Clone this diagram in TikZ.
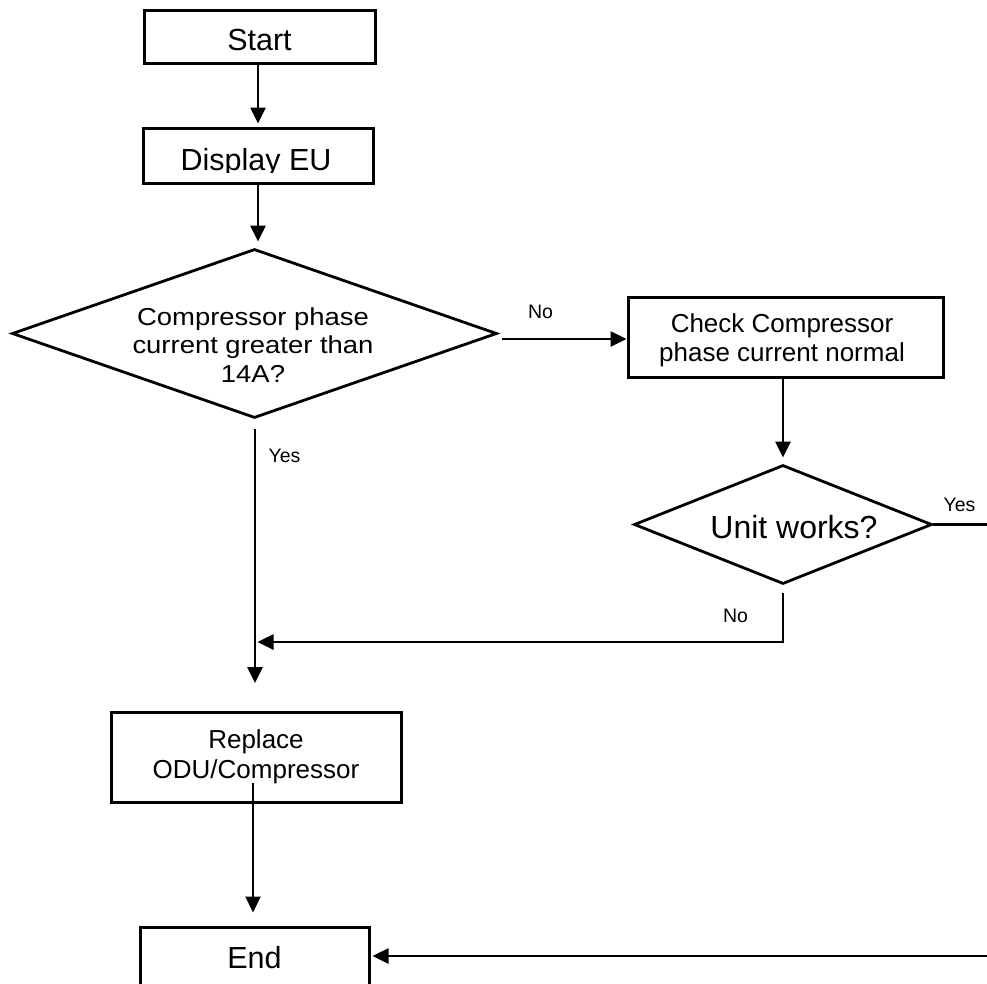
\documentclass[tikz,border=0pt]{standalone}
\usepackage{fontspec}
\setmainfont{Liberation Sans}
\newfontfamily\widefont[FakeStretch=1.12]{Liberation Sans}
\usetikzlibrary{arrows.meta,shapes.geometric}
\begin{document}
\begin{tikzpicture}[x=1pt,y=-1pt,
  box/.style={draw, line width=3pt, inner sep=0pt, align=center},
  dia/.style={draw, diamond, line width=2.8pt, inner sep=0pt},
  arr/.style={line width=2.6pt, -{Triangle[length=16pt,width=15pt]}},
  lbl/.style={font=\fontsize{19.5}{22}\selectfont, inner sep=0pt, anchor=base},
]
\useasboundingbox (0,0) rectangle (987,983);

% Start
\node[box, minimum width=231pt, minimum height=53pt, text height=27pt, text depth=0pt,
      font=\fontsize{30.5}{34}\selectfont] (start) at (259.5,36.5) {Start};

% Display EU (descenders clipped as in the reference)
\node[box, minimum width=230pt, minimum height=55pt] (disp) at (258,155.5) {};
\begin{scope}
  \clip (145,130) rectangle (371,172);
  \node[font=\fontsize{30.5}{34}\selectfont, inner sep=0pt, anchor=base] (dispt) at (256,170) {Display EU};
\end{scope}

% Decision 1
\node[dia, minimum width=485pt, minimum height=169pt] (q1) at (254.5,333.5) {};
\node[font={\widefont\fontsize{24.5}{28.5}\selectfont}, align=center, inner sep=0pt] (q1t) at (253,345)
  {Compressor phase\\current greater than\\14A?};

% Check box
\node[box, minimum width=315pt, minimum height=80pt] (check) at (785.5,337) {};
\begin{scope}
  \clip (630,299) rectangle (941,367);
  \node[font=\fontsize{26}{29}\selectfont, align=center, inner sep=0pt] (checkt) at (782,340.7)
    {Check Compressor\\phase current normal};
\end{scope}

% Decision 2
\node[dia, minimum width=298pt, minimum height=119pt] (unit) at (783,524.5) {};
\node[font=\fontsize{32}{36}\selectfont, inner sep=0pt, anchor=base] (unitt) at (794,538) {Unit works?};

% Replace
\node[box, minimum width=290pt, minimum height=90pt, font=\fontsize{26}{30}\selectfont] (repl) at (256,757)
  {Replace\\ODU/Compressor};

% End
\node[box, minimum width=229pt, minimum height=58pt, text height=24pt, text depth=0pt,
      font=\fontsize{30.5}{34}\selectfont] (endn) at (254.5,956) {End};

% coordinates
\coordinate (yesend) at (255,683);
\coordinate (junc) at (257.5,642);
\coordinate (rstart) at (253,783);
\path ([xshift=4pt]q1.east) coordinate (q1e);

% connectors
\draw[arr, shorten >=3pt] (start.south -| disp.center) -- (disp.north);
\draw[arr, shorten >=6pt] (disp.south) -- (disp.south |- q1.north);
\draw[arr] ([yshift=-2pt]q1e |- check.west) -- ([yshift=-2pt]check.west);
\draw[arr, shorten >=6pt] (check.south -| unit.north) -- (unit.north);
\draw[arr] ([yshift=-10pt]q1.south -| yesend) -- (yesend);
\draw[arr] ([yshift=-8pt]unit.south) |- (junc);
\draw[arr, shorten >=2pt] (unit.east) -- ++(63,0) |- (endn.east);
\draw[line width=2.1pt, -{Triangle[length=16pt,width=15pt]}, shorten >=13pt] (rstart) -- (rstart |- endn.north);

% labels
\node[lbl] (lno1) at (540.5,318) {No};
\node[lbl] (lyes1) at (284.5,462) {Yes};
\node[lbl] (lyes2) at (959.5,511) {Yes};
\node[lbl] (lno2) at (735.5,622) {No};
\end{tikzpicture}
\end{document}
